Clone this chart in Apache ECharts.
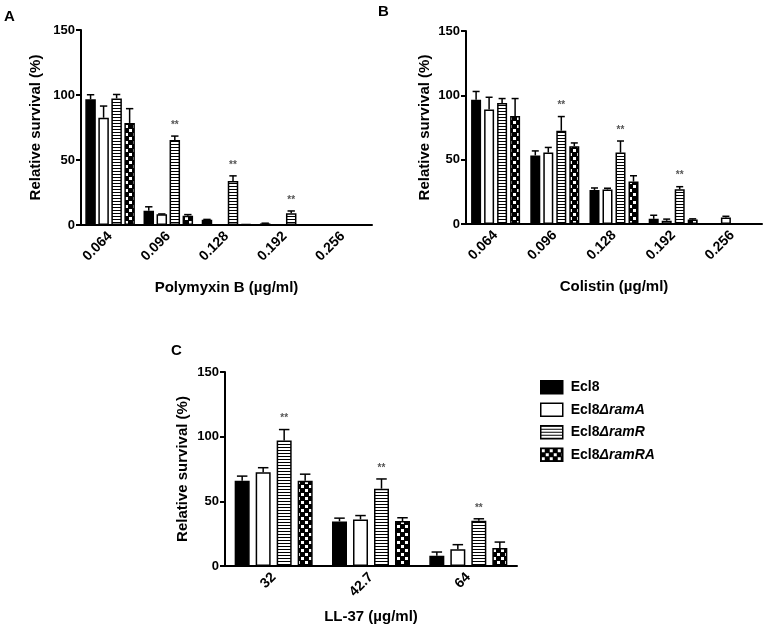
<!DOCTYPE html>
<html>
<head>
<meta charset="utf-8">
<script src="https://cdn.jsdelivr.net/npm/echarts@6/dist/echarts.min.js"></script>
<style>
html,body{margin:0;padding:0;background:#fff;}
#chart{width:766px;height:632px;}
</style>
</head>
<body>
<div id="chart"></div>
<script>
// ---------- data ----------
const seriesNames = ['Ecl8', 'Ecl8ΔramA', 'Ecl8ΔramR', 'Ecl8ΔramRA'];

const catsA = ['0.064', '0.096', '0.128', '0.192', '0.256'];
const meanA_Ecl8 = [96.7, 11, 4, 1.2, 0];
const meanA_ramA = [82.5, 8.2, 0.5, 0, 0];
const meanA_ramR = [97.4, 65.4, 33.8, 9, 0];
const meanA_ramRA = [78.5, 7.2, 0.8, 0, 0];
const errA_Ecl8 = [3.5, 3, 0.3, 0.2, 0];
const errA_ramA = [9, 0.3, 0, 0, 0];
const errA_ramR = [3, 3, 4, 1.8, 0];
const errA_ramRA = [11, 0.8, 0, 0, 0];
const sigA = ['', '**', '**', '**', ''];

const catsB = ['0.064', '0.096', '0.128', '0.192', '0.256'];
const meanB_Ecl8 = [96.5, 53.3, 26.5, 4, 0];
const meanB_ramA = [89, 55.5, 26.8, 2.5, 5];
const meanB_ramR = [94, 72.5, 55.5, 27, 0];
const meanB_ramRA = [84, 60.5, 33, 3.5, 0];
const errB_Ecl8 = [6.5, 3.5, 1.5, 2.8, 0];
const errB_ramA = [9.5, 4, 1, 1.3, 1];
const errB_ramR = [3.5, 11, 9, 2, 0];
const errB_ramRA = [13.5, 2.5, 4.5, 0.5, 0];
const sigB = ['', '**', '**', '**', ''];

const catsC = ['32', '42.7', '64'];
const meanC_Ecl8 = [66, 34.5, 8];
const meanC_ramA = [72.5, 36, 13];
const meanC_ramR = [97, 59.8, 35];
const meanC_ramRA = [66, 34.8, 14];
const errC_Ecl8 = [3.5, 2.5, 2.8];
const errC_ramA = [3.5, 3, 3.5];
const errC_ramR = [8.5, 7.5, 1.5];
const errC_ramRA = [5, 2.5, 4.5];
const sigC = ['**', '**', '**'];

const yTicks = [0, 50, 100, 150];

// ---------- styles ----------
const FONT = 'Arial, "Liberation Sans", sans-serif';

function hatchPattern() {
  const c = document.createElement('canvas');
  c.width = 4; c.height = 3;
  const x = c.getContext('2d');
  x.fillStyle = '#fff'; x.fillRect(0, 0, 4, 3);
  x.fillStyle = '#000'; x.fillRect(0, 0, 4, 1);
  return c;
}
function checkerPattern() {
  const c = document.createElement('canvas');
  c.width = 8; c.height = 8;
  const x = c.getContext('2d');
  x.fillStyle = '#000'; x.fillRect(0, 0, 8, 8);
  x.fillStyle = '#fff'; x.fillRect(1, 1, 3, 3); x.fillRect(5, 5, 3, 3);
  return c;
}
const fills = ['#000', '#fff', { image: hatchPattern(), repeat: 'repeat' }, { image: checkerPattern(), repeat: 'repeat' }];

const panels = [
  { cats: catsA, means: [meanA_Ecl8, meanA_ramA, meanA_ramR, meanA_ramRA], errs: [errA_Ecl8, errA_ramA, errA_ramR, errA_ramRA], sig: sigA,
    grid: { left: 81, top: 30, width: 291, height: 195 }, w: 10.5, gap: 0.24, xName: 'Polymyxin B (µg/ml)', xGap: 55, yGap: 38 },
  { cats: catsB, means: [meanB_Ecl8, meanB_ramA, meanB_ramR, meanB_ramRA], errs: [errB_Ecl8, errB_ramA, errB_ramR, errB_ramRA], sig: sigB,
    grid: { left: 466, top: 31, width: 296, height: 193 }, w: 10, gap: 0.3, xName: 'Colistin (µg/ml)', xGap: 55, yGap: 34 },
  { cats: catsC, means: [meanC_Ecl8, meanC_ramA, meanC_ramR, meanC_ramRA], errs: [errC_Ecl8, errC_ramA, errC_ramR, errC_ramRA], sig: sigC,
    grid: { left: 225, top: 372, width: 292, height: 194 }, w: 15, gap: 0.4, xName: 'LL-37 (µg/ml)', xGap: 43, yGap: 35 }
];

const grids = [], xAxes = [], yAxes = [], series = [];

panels.forEach((p, gi) => {
  grids.push(Object.assign({ containLabel: false }, p.grid));
  xAxes.push({
    type: 'category', gridIndex: gi, data: p.cats,
    name: p.xName, nameLocation: 'middle', nameGap: p.xGap,
    nameTextStyle: { fontFamily: FONT, fontSize: 15, fontWeight: 'bold', color: '#000' },
    axisLine: { lineStyle: { color: '#000', width: 2 } },
    axisTick: { alignWithLabel: true, length: 6, lineStyle: { color: '#000', width: 2 } },
    axisLabel: { rotate: 45, fontFamily: FONT, fontSize: 14, fontWeight: 'bold', color: '#000', margin: 9, interval: 0 }
  });
  yAxes.push({
    type: 'value', gridIndex: gi, min: yTicks[0], max: yTicks[yTicks.length - 1], interval: yTicks[1] - yTicks[0],
    name: 'Relative survival (%)', nameLocation: 'middle', nameGap: p.yGap,
    nameTextStyle: { fontFamily: FONT, fontSize: 15, fontWeight: 'bold', color: '#000' },
    axisLine: { show: true, lineStyle: { color: '#000', width: 2 } },
    axisTick: { show: true, length: 5, lineStyle: { color: '#000', width: 2 } },
    axisLabel: { fontFamily: FONT, fontSize: 13, fontWeight: 'bold', color: '#000', margin: 6 },
    splitLine: { show: false }
  });
  const n = 4, w = p.w, gap = w * p.gap;
  const total = n * w + (n - 1) * gap;
  for (let k = 0; k < n; k++) {
    series.push({
      type: 'bar', name: seriesNames[k], xAxisIndex: gi, yAxisIndex: gi,
      data: p.means[k], barWidth: w, barGap: (p.gap * 100) + '%',
      itemStyle: { color: fills[k], borderColor: '#000', borderWidth: 1.5 },
      emphasis: { disabled: true }, animation: false
    });
  }
  for (let k = 0; k < n; k++) {
    const off = -total / 2 + k * (w + gap) + w / 2;
    const errs = p.errs[k];
    const sig = k === 2 ? p.sig : null;
    const cap = w * 0.35;
    series.push({
      type: 'custom', name: 'err' + gi + '_' + k, xAxisIndex: gi, yAxisIndex: gi, z: 5, silent: true, animation: false,
      data: p.means[k].map((m, i) => [i, m, errs[i]]),
      renderItem: (params, api) => {
        const i = api.value(0), m = api.value(1), e = api.value(2);
        const base = api.coord([i, m]);
        const top = api.coord([i, m + e]);
        const x = base[0] + off;
        const ch = [];
        if (e > 0) {
          ch.push({ type: 'line', shape: { x1: x, y1: base[1], x2: x, y2: top[1] }, style: { stroke: '#000', lineWidth: 1.5 } });
          ch.push({ type: 'line', shape: { x1: x - cap, y1: top[1], x2: x + cap, y2: top[1] }, style: { stroke: '#000', lineWidth: 1.5 } });
        }
        if (sig && sig[i]) {
          ch.push({ type: 'text', style: { text: sig[i], x: x, y: top[1] - 11, align: 'center', verticalAlign: 'middle', fill: '#555', font: 'bold 10px Arial' } });
        }
        return { type: 'group', children: ch };
      }
    });
  }
});

const chart = echarts.init(document.getElementById('chart'), null, { renderer: 'canvas' });
chart.setOption({
  backgroundColor: '#fff',
  animation: false,
  grid: grids, xAxis: xAxes, yAxis: yAxes, series: series,
  legend: {
    data: seriesNames, orient: 'vertical', left: 535, top: 375,
    itemWidth: 22, itemHeight: 13, itemGap: 8, icon: 'rect',
    itemStyle: { borderColor: '#000', borderWidth: 1.5 },
    selectedMode: false,
    formatter: name => name.replace(/(Δ.*)$/, '{i|$1}'),
    textStyle: { fontFamily: FONT, fontSize: 14, fontWeight: 'bold', color: '#000', padding: [0, 0, 0, 3], lineHeight: 14,
      rich: { i: { fontFamily: FONT, fontSize: 14, fontWeight: 'bold', fontStyle: 'italic', color: '#000' } } }
  },
  graphic: [
    { type: 'text', left: 4, top: 9, style: { text: 'A', font: 'bold 15px Arial, "Liberation Sans"', fill: '#000' } },
    { type: 'text', left: 378, top: 4, style: { text: 'B', font: 'bold 15px Arial, "Liberation Sans"', fill: '#000' } },
    { type: 'text', left: 171, top: 343, style: { text: 'C', font: 'bold 15px Arial, "Liberation Sans"', fill: '#000' } }
  ]
});
</script>
</body>
</html>
